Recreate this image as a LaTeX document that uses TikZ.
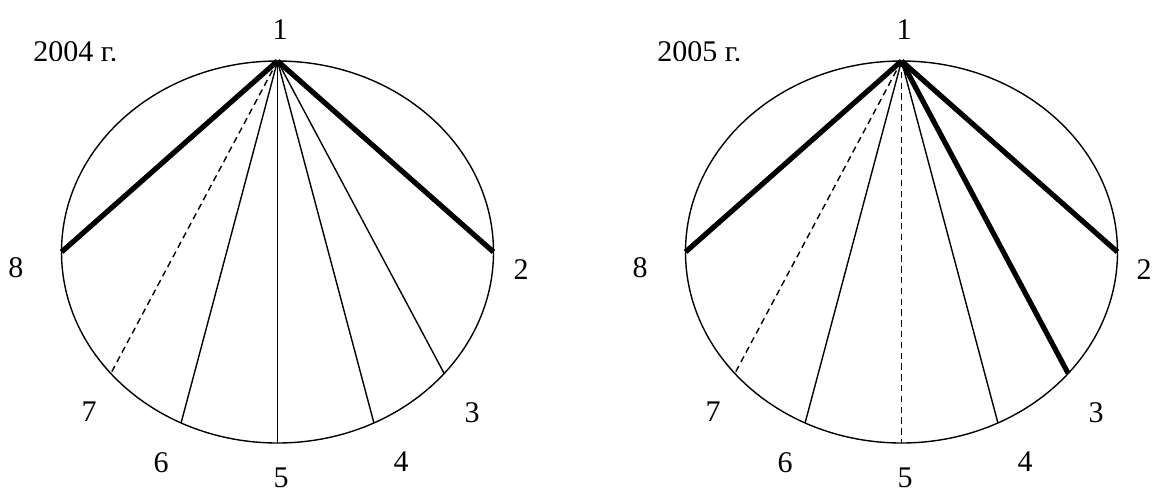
\documentclass[tikz,border=0pt]{standalone}
\usepackage{fontspec}
\setmainfont{Liberation Serif}
\begin{document}
\begin{tikzpicture}[x=0.5pt,y=-0.5pt,
  outline/.style={line width=0.7pt},
  thinchord/.style={line width=0.7pt},
  thickchord/.style={line width=2.6pt},
  dashchord/.style={line width=0.7pt, dash pattern=on 3.2pt off 2.2pt},
  lab/.style={inner sep=0pt, font=\fontsize{15}{17}\selectfont}]
\useasboundingbox (0,0) rectangle (1152,494);

% ---------- left diagram (2004) ----------
\coordinate (ac) at (277.5,252);
\coordinate (a1) at (277.5,61);
\coordinate (a2) at (493.5,252);
\coordinate (a3) at (444.2,373.5);
\coordinate (a4) at (373.9,422.9);
\coordinate (a5) at (277.5,443);
\coordinate (a6) at (181.1,422.9);
\coordinate (a7) at (110.8,373.5);
\coordinate (a8) at (61.5,252);
\draw[outline] (ac) ellipse [x radius=108pt, y radius=95.5pt];
\draw[thickchord] (a1) -- (a2);
\draw[thinchord] (a1) -- (a3);
\draw[thinchord] (a1) -- (a4);
\draw[thinchord] (a1) -- (a5);
\draw[thinchord] (a1) -- (a6);
\draw[dashchord] (a1) -- (a7);
\draw[thickchord] (a1) -- (a8);
\node[lab] (al1) at (280,30) {1};
\node[lab] (al2) at (521,270) {2};
\node[lab] (al3) at (472,413) {3};
\node[lab] (al4) at (401,462) {4};
\node[lab] (al5) at (281,478) {5};
\node[lab] (al6) at (161,463) {6};
\node[lab] (al7) at (89,412) {7};
\node[lab] (al8) at (16,268) {8};
\begin{scope}
  \clip (0,0) rectangle (200,60);
  \node[lab, anchor=base west] (ayear) at (33,61) {2004 г.};
\end{scope}

% ---------- right diagram (2005) ----------
\coordinate (bc) at (901.5,252);
\coordinate (b1) at (901.5,61);
\coordinate (b2) at (1117.5,252);
\coordinate (b3) at (1068.2,373.5);
\coordinate (b4) at (997.9,422.9);
\coordinate (b5) at (901.5,443);
\coordinate (b6) at (805.1,422.9);
\coordinate (b7) at (734.8,373.5);
\coordinate (b8) at (685.5,252);
\draw[outline] (bc) ellipse [x radius=108pt, y radius=95.5pt];
\draw[thickchord] (b1) -- (b2);
\draw[thickchord] (b1) -- (b3);
\draw[thinchord] (b1) -- (b4);
\draw[dashchord] (b1) -- (b5);
\draw[thinchord] (b1) -- (b6);
\draw[dashchord] (b1) -- (b7);
\draw[thickchord] (b1) -- (b8);
\node[lab] (bl1) at (904,30) {1};
\node[lab] (bl2) at (1144,270) {2};
\node[lab] (bl3) at (1096,413) {3};
\node[lab] (bl4) at (1025,462) {4};
\node[lab] (bl5) at (905,478) {5};
\node[lab] (bl6) at (785,463) {6};
\node[lab] (bl7) at (713,412) {7};
\node[lab] (bl8) at (640,268) {8};
\begin{scope}
  \clip (600,0) rectangle (830,60);
  \node[lab, anchor=base west] (byear) at (657,61) {2005 г.};
\end{scope}
\end{tikzpicture}
\end{document}
